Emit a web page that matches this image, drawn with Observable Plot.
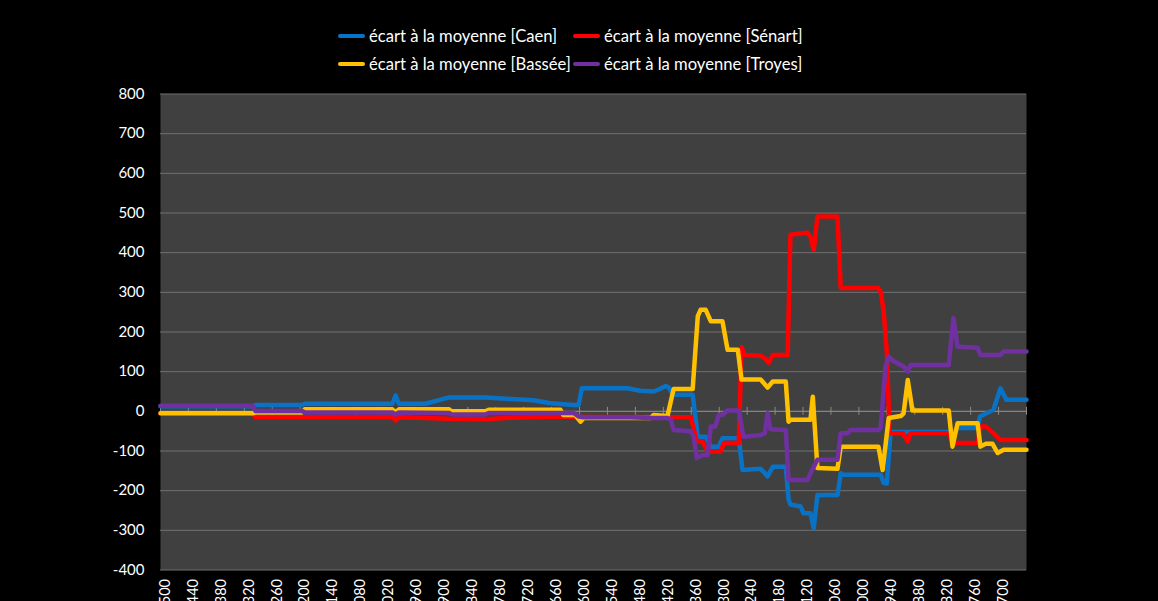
<!DOCTYPE html>
<html>
<head>
<meta charset="utf-8">
<script src="https://cdn.jsdelivr.net/npm/d3@7"></script>
<script src="https://cdn.jsdelivr.net/npm/@observablehq/plot@0.6"></script>
<style>
  html, body { margin: 0; padding: 0; background: #000; overflow: hidden; }
  #chart { position: relative; width: 1158px; height: 601px; font-family: Lato, "Open Sans", sans-serif; color: #fff; }
  #legend { position: absolute; left: 0; top: 0; width: 1158px; height: 80px; }
  .item { position: absolute; display: flex; align-items: center; height: 20px; font-size: 16.6px; white-space: nowrap; }
  .swatch { width: 27px; height: 4px; margin-right: 4px; border-radius: 2px; }
  #plot { position: absolute; left: 0; top: 80px; }
</style>
</head>
<body>
<div id="chart">
  <div id="legend"></div>
  <div id="plot"></div>
</div>
<script>
// Deviation from the mean, per site: [year, value] breakpoints (years descending)
const caen = [
  [2510, 13], [2312, 13], [2306, 16], [2206, 16], [2200, 19], [2012, 19], [2005, 40], [1998, 19],
  [1941, 19], [1890, 35], [1812, 35], [1758, 31], [1709, 28], [1676, 21], [1623, 16], [1612, 16],
  [1605, 58], [1507, 58], [1480, 52], [1451, 50], [1440, 55], [1425, 64], [1418, 60], [1410, 42],
  [1367, 42], [1356, -64], [1339, -64], [1328, -89], [1311, -89], [1303, -68], [1268, -68],
  [1260, -148], [1221, -145], [1206, -164], [1195, -140], [1167, -140], [1161, -223], [1157, -235],
  [1135, -240], [1129, -257], [1114, -257], [1107, -295], [1099, -211], [1056, -211], [1049, -156],
  [1045, -160], [963, -160], [957, -180], [950, -182], [942, -52], [805, -52], [798, -42],
  [755, -42], [750, -13], [721, 4], [706, 58], [693, 29], [650, 29]
];
const senart = [
  [2510, -5], [2312, -5], [2306, -15], [2012, -14], [2005, -23], [1998, -15], [1941, -17],
  [1890, -19], [1812, -20], [1758, -16], [1651, -13], [1608, -14], [1371, -15], [1358, -76],
  [1346, -76], [1335, -101], [1307, -101], [1300, -80], [1268, -80], [1262, 162], [1256, 142],
  [1221, 140], [1212, 134], [1204, 122], [1195, 142], [1163, 142], [1157, 445], [1120, 450],
  [1114, 440], [1107, 407], [1099, 491], [1056, 491], [1049, 311], [968, 311], [963, 300],
  [957, 255], [950, 150], [944, -55], [916, -55], [905, -76], [899, -55], [817, -55], [809, -80],
  [755, -80], [749, -38], [738, -38], [721, -55], [706, -72], [650, -72]
];
const bassee = [
  [2510, -5], [2312, -5], [2306, -3], [2206, -3], [2200, 5], [2012, 5], [2005, -2], [1998, 5],
  [1890, 5], [1885, 0], [1812, 0], [1805, 4], [1651, 4], [1645, -9], [1620, -9], [1608, -26],
  [1601, -17], [1457, -17], [1451, -9], [1421, -12], [1408, 56], [1367, 56], [1356, 240],
  [1350, 256], [1339, 256], [1333, 240], [1328, 227], [1303, 227], [1292, 155], [1270, 155],
  [1262, 80], [1221, 80], [1206, 60], [1195, 75], [1167, 75], [1161, -26], [1157, -21],
  [1114, -21], [1109, 37], [1099, -143], [1056, -145], [1049, -89], [968, -89], [959, -148],
  [946, -17], [920, -12], [914, -5], [905, 79], [895, 2], [817, 2], [809, -89], [798, -30],
  [755, -30], [749, -89], [738, -82], [723, -82], [712, -105], [699, -97], [650, -97]
];
const troyes = [
  [2510, 14], [2312, 14], [2306, 1], [2206, 1], [2200, -3], [2012, -3], [2005, -8], [1998, -3],
  [1890, -4], [1885, -8], [1812, -8], [1805, -4], [1623, -4], [1612, -13], [1601, -15],
  [1500, -15], [1457, -17], [1421, -17], [1414, -20], [1408, -47], [1371, -50], [1365, -64],
  [1358, -118], [1346, -110], [1335, -110], [1328, -38], [1318, -38], [1311, -9], [1303, -9],
  [1292, 2], [1268, 2], [1258, -64], [1221, -60], [1212, -55], [1206, -5], [1200, -45],
  [1167, -47], [1161, -173], [1120, -173], [1114, -156], [1099, -122], [1056, -122], [1049, -55],
  [1034, -55], [1028, -47], [968, -47], [963, -40], [953, 113], [946, 138], [935, 126],
  [914, 113], [905, 100], [899, 117], [817, 117], [807, 235], [798, 163], [755, 160],
  [749, 142], [706, 142], [699, 151], [650, 151]
];

// Axis ticks
const yTicks = [-400, -300, -200, -100, 0, 100, 200, 300, 400, 500, 600, 700, 800];
const xLabels = [2500, 2440, 2380, 2320, 2260, 2200, 2140, 2080, 2020, 1960, 1900, 1840, 1780,
  1720, 1660, 1600, 1540, 1480, 1420, 1360, 1300, 1240, 1180, 1120, 1060, 1000, 940, 880,
  820, 760, 700];
// category boundaries carrying the small tick marks on the zero line
const xBoundaries = [2510, 2450, 2390, 2330, 2270, 2210, 2150, 2090, 2030, 1970, 1910, 1850,
  1790, 1730, 1670, 1610, 1550, 1490, 1430, 1370, 1310, 1250, 1190, 1130, 1070, 1010, 950,
  890, 830, 770, 710, 650];

const series = [
  {name: "écart à la moyenne [Caen]", color: "#0a72c4", points: caen},
  {name: "écart à la moyenne [Sénart]", color: "#ff0000", points: senart},
  {name: "écart à la moyenne [Bassée]", color: "#ffc000", points: bassee},
  {name: "écart à la moyenne [Troyes]", color: "#7030a0", points: troyes}
];

// Legend: two rows, two columns
const legendPos = [[338, 26], [573, 26], [338, 54], [573, 54]];
const legend = document.getElementById("legend");
series.forEach((s, i) => {
  const item = document.createElement("div");
  item.className = "item";
  item.style.left = legendPos[i][0] + "px";
  item.style.top = legendPos[i][1] + "px";
  const sw = document.createElement("span");
  sw.className = "swatch";
  sw.style.background = s.color;
  const label = document.createElement("span");
  label.textContent = s.name;
  item.append(sw, label);
  legend.append(item);
});

const chart = Plot.plot({
  width: 1158,
  height: 530,
  marginLeft: 160,
  marginRight: 132,
  marginTop: 13.5,
  marginBottom: 40.5,
  style: {background: "transparent", color: "#ffffff", fontFamily: "Lato, 'Open Sans', sans-serif", fontSize: "15px"},
  x: {domain: [2510, 650]},
  y: {domain: [-400, 800]},
  marks: [
    Plot.frame({fill: "#404040", stroke: null}),
    Plot.ruleY(yTicks, {stroke: "#707070", strokeWidth: 1}),
    Plot.ruleY([0], {stroke: "#8a8a8a", strokeWidth: 1}),
    Plot.ruleX(xBoundaries, {y1: -10, y2: 10, stroke: "#8a8a8a", strokeWidth: 1}),
    ...series.map(s => Plot.line(s.points, {
      x: d => d[0], y: d => d[1], stroke: s.color, strokeWidth: 4.5,
      strokeLinejoin: "round", strokeLinecap: "round"
    })),
    Plot.axisY({ticks: yTicks, tickSize: 0, tickPadding: 16, tickFormat: d => String(d), label: null, fill: "#ffffff"}),
    Plot.axisX({ticks: xLabels, tickSize: 0, tickPadding: 9, tickRotate: -90, tickFormat: d => String(d), label: null, fill: "#ffffff", fontSize: 14.5})
  ]
});
document.getElementById("plot").append(chart);
</script>
</body>
</html>
